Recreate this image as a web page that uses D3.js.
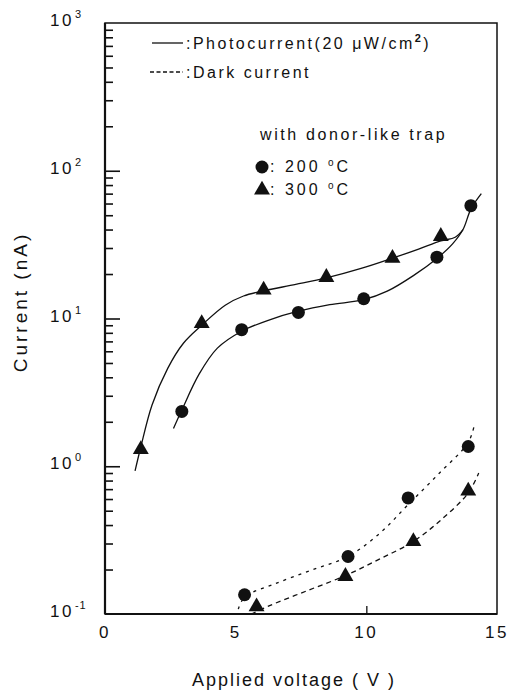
<!DOCTYPE html>
<html>
<head>
<meta charset="utf-8">
<script src="https://cdn.jsdelivr.net/npm/d3@7"></script>
<style>
  body { margin: 0; background: #fff; }
  svg text { font-family: "Liberation Sans", Arial, sans-serif; fill: #111; }
</style>
</head>
<body>
<div id="chart"></div>
<script>
// Marker data (V, nA)
const photo200 = [[2.94, 2.35], [5.23, 8.4], [7.4, 11], [9.9, 13.6], [12.7, 26], [14.0, 58]];
const photo300 = [[1.37, 1.3], [3.7, 9.25], [6.07, 15.6], [8.47, 19], [11.0, 25.6], [12.85, 36]];
const dark200 = [[5.34, 0.135], [9.3, 0.245], [11.6, 0.61], [13.9, 1.36]];
const dark300 = [[5.8, 0.112], [9.2, 0.18], [11.8, 0.31], [13.9, 0.68]];

// Fitted curves as drawn in the figure
const fit200 = [[2.62, 1.8], [2.94, 2.4], [3.6, 4.2], [4.3, 6.3], [5.23, 8.2], [6.3, 9.8], [7.4, 11.2],
  [8.6, 12.4], [9.9, 13.4], [10.8, 15.3], [11.8, 19.5], [12.7, 25.5], [13.3, 32], [13.7, 40], [14.0, 55], [14.4, 70]];
const fit300 = [[1.15, 0.93], [1.37, 1.35], [1.8, 2.6], [2.4, 4.6], [3.0, 6.8], [3.7, 9.0], [4.6, 12.3],
  [5.3, 14.2], [6.07, 15.4], [7.3, 17.0], [8.47, 18.8], [9.8, 21.8], [11.0, 25.6], [12.0, 29.5],
  [12.85, 33.5], [13.4, 35.5], [13.7, 40]];
const fitDark200 = [[5.1, 0.108], [5.34, 0.13], [6.5, 0.16], [7.9, 0.198], [9.3, 0.245], [10.5, 0.35],
  [11.6, 0.55], [12.8, 0.9], [13.9, 1.45], [14.15, 1.95]];
const fitDark300 = [[5.6, 0.1], [6.3, 0.114], [7.7, 0.143], [9.2, 0.182], [10.5, 0.235], [11.8, 0.31],
  [12.9, 0.44], [13.9, 0.66], [14.3, 0.9]];

const xTicks = [0, 5, 10, 15];
const decades = [0.1, 1, 10, 100, 1000];
const exponents = ['-1', '0', '1', '2', '3'];

const W = 508;
const H = 693;
const frame = { l: 105, r: 497, t: 23, b: 614 };

const x = d3.scaleLinear().domain([0, 15]).range([frame.l, frame.r]);
const y = d3.scaleLog().domain([0.1, 1000]).range([frame.b, frame.t]);

const svg = d3.select('#chart').append('svg')
  .attr('width', W)
  .attr('height', H);

// minor ticks 2..9 in each decade
const minor = [];
decades.slice(0, -1).forEach(d => {
  for (let k = 2; k <= 9; k++) minor.push(d * k);
});

svg.append('g')
  .attr('transform', `translate(${frame.l},0)`)
  .call(d3.axisRight(y).tickValues(minor).tickSize(8).tickFormat(''))
  .call(g => g.select('.domain').remove())
  .call(g => g.selectAll('line').attr('stroke', '#111').attr('stroke-width', 1.6));

svg.append('g')
  .attr('transform', `translate(${frame.l},0)`)
  .call(d3.axisRight(y).tickValues(decades.slice(1, -1)).tickSize(15).tickFormat(''))
  .call(g => g.select('.domain').remove())
  .call(g => g.selectAll('line').attr('stroke', '#111').attr('stroke-width', 1.6));

// small inward tick on x axis at 10
svg.append('g')
  .attr('transform', `translate(0,${frame.b})`)
  .call(d3.axisTop(x).tickValues([10]).tickSize(8).tickFormat(''))
  .call(g => g.select('.domain').remove())
  .call(g => g.selectAll('line').attr('stroke', '#111').attr('stroke-width', 1.3));

// frame
svg.append('rect')
  .attr('x', frame.l).attr('y', frame.t)
  .attr('width', frame.r - frame.l).attr('height', frame.b - frame.t)
  .attr('fill', 'none').attr('stroke', '#111').attr('stroke-width', 1.5);
svg.append('line')
  .attr('x1', frame.l).attr('x2', frame.l).attr('y1', frame.t).attr('y2', frame.b)
  .attr('stroke', '#111').attr('stroke-width', 2.2);
svg.append('line')
  .attr('x1', frame.l).attr('x2', frame.r).attr('y1', frame.b).attr('y2', frame.b)
  .attr('stroke', '#111').attr('stroke-width', 2.2);

// y tick labels 10^n
const yLab = svg.append('g').selectAll('text')
  .data(decades)
  .join('text')
  .attr('x', 50)
  .attr('y', d => y(d) + 3)
  .style('font-size', '17px')
  .style('letter-spacing', '2.5px');
yLab.append('tspan').text('10');
yLab.append('tspan')
  .attr('dx', 1)
  .attr('dy', -8)
  .style('font-size', '11px')
  .style('letter-spacing', '1px')
  .text((d, i) => exponents[i]);

// x tick labels
svg.append('g').selectAll('text')
  .data(xTicks)
  .join('text')
  .attr('x', d => x(d))
  .attr('y', frame.b + 24)
  .attr('text-anchor', 'middle')
  .style('font-size', '17px')
  .style('letter-spacing', '2.5px')
  .text(d => d);

// axis titles
svg.append('text')
  .attr('x', 294)
  .attr('y', 686)
  .attr('text-anchor', 'middle')
  .style('font-size', '18px')
  .style('letter-spacing', '2px')
  .text('Applied voltage ( V )');

svg.append('text')
  .attr('transform', 'translate(27,302) rotate(-90)')
  .attr('text-anchor', 'middle')
  .style('font-size', '19px')
  .style('letter-spacing', '3px')
  .text('Current (nA)');

// curves
const line = d3.line()
  .x(d => x(d[0]))
  .y(d => y(d[1]))
  .curve(d3.curveCatmullRom.alpha(0.5));

const curves = [
  { data: fit200, dash: null },
  { data: fit300, dash: null },
  { data: fitDark200, dash: '3,5' },
  { data: fitDark300, dash: '5,4' }
];

svg.append('g').selectAll('path')
  .data(curves)
  .join('path')
  .attr('d', d => line(d.data))
  .attr('fill', 'none')
  .attr('stroke', '#111')
  .attr('stroke-width', 1.3)
  .attr('stroke-dasharray', d => d.dash);

// markers
const circles = photo200.concat(dark200);
const triangles = photo300.concat(dark300);

svg.append('g').selectAll('circle')
  .data(circles)
  .join('circle')
  .attr('cx', d => x(d[0]))
  .attr('cy', d => y(d[1]))
  .attr('r', 6.5)
  .attr('fill', '#111');

const tri = d3.symbol().type(d3.symbolTriangle).size(110);
svg.append('g').selectAll('path')
  .data(triangles)
  .join('path')
  .attr('transform', d => `translate(${x(d[0])},${y(d[1])})`)
  .attr('d', tri)
  .attr('fill', '#111');

// legend
const legend = svg.append('g');
legend.append('line')
  .attr('x1', 152).attr('x2', 183).attr('y1', 43).attr('y2', 43)
  .attr('stroke', '#111').attr('stroke-width', 1.3);
legend.append('line')
  .attr('x1', 150).attr('x2', 183).attr('y1', 72).attr('y2', 72)
  .attr('stroke', '#111').attr('stroke-width', 1.6)
  .attr('stroke-dasharray', '4,2.5');

const l1 = legend.append('text')
  .attr('x', 186).attr('y', 49)
  .style('font-size', '16px')
  .style('letter-spacing', '2.5px');
l1.append('tspan').text(':Photocurrent(20 μW/cm');
l1.append('tspan').attr('dy', -7).style('font-size', '11px').style('font-weight', 'bold').text('2');
l1.append('tspan').attr('dy', 7).text(')');

legend.append('text')
  .attr('x', 186).attr('y', 78)
  .style('font-size', '16px')
  .style('letter-spacing', '2.5px')
  .text(':Dark current');

legend.append('text')
  .attr('x', 260).attr('y', 140)
  .style('font-size', '16px')
  .style('letter-spacing', '2.6px')
  .text('with donor-like trap');

legend.append('circle')
  .attr('cx', 262).attr('cy', 167).attr('r', 6.5).attr('fill', '#111');
legend.append('path')
  .attr('transform', 'translate(262,190)')
  .attr('d', tri)
  .attr('fill', '#111');

[[': 200', 172], [': 300', 195]].forEach(([t, yy]) => {
  const tx = legend.append('text')
    .attr('x', 270).attr('y', yy)
    .style('font-size', '16px')
    .style('letter-spacing', '3px');
  tx.append('tspan').text(t + ' ');
  tx.append('tspan').attr('dy', -6).style('font-size', '10px').text('o');
  tx.append('tspan').attr('dy', 6).text('C');
});
</script>
</body>
</html>
